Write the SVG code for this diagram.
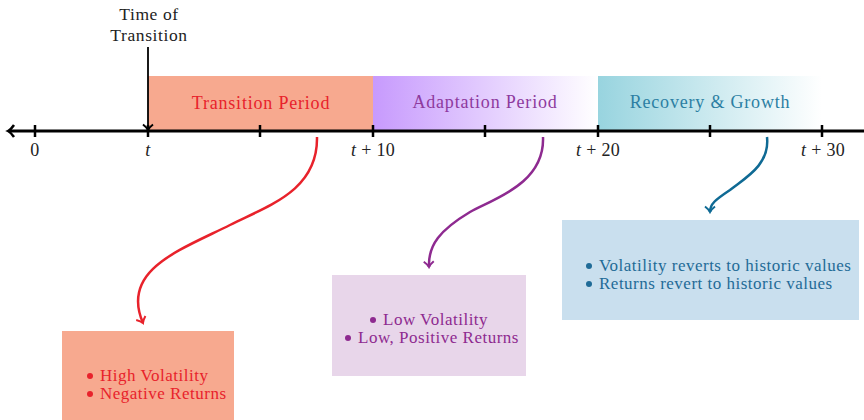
<svg xmlns="http://www.w3.org/2000/svg" width="864" height="420" viewBox="0 0 864 420">
<style>
text{font-family:"Liberation Serif","Times New Roman",serif;}
.lab{font-size:17.5px;fill:#222;text-anchor:middle;letter-spacing:0.6px}
.ax{font-size:18px;fill:#222;text-anchor:middle;letter-spacing:0.3px}
.it{font-style:italic}
.band{font-size:18px;text-anchor:middle;letter-spacing:0.8px}
.box{font-size:17px;letter-spacing:0.5px}
.tick{stroke:#000;stroke-width:2.5}
</style>
<defs>
<linearGradient id="gPurple" x1="0" y1="0" x2="1" y2="0">
<stop offset="0" stop-color="#C79AFD"/><stop offset="1" stop-color="#FFFFFF"/>
</linearGradient>
<linearGradient id="gTeal" x1="0" y1="0" x2="1" y2="0">
<stop offset="0" stop-color="#98D4DF"/><stop offset="1" stop-color="#FFFFFF"/>
</linearGradient>
<marker id="aBlack" viewBox="-7 -7 9 14" markerWidth="9" markerHeight="14" refX="0" refY="0" orient="auto" markerUnits="userSpaceOnUse">
<path d="M-5.5,-5 C-3,-1.8 -0.8,-0.4 0,0 C-0.8,0.4 -3,1.8 -5.5,5" fill="none" stroke="#000" stroke-width="2"/>
</marker>
<marker id="aRed" viewBox="-7 -7 9 14" markerWidth="9" markerHeight="14" refX="0" refY="0" orient="auto" markerUnits="userSpaceOnUse">
<path d="M-5.5,-5 C-3,-1.8 -0.8,-0.4 0,0 C-0.8,0.4 -3,1.8 -5.5,5" fill="none" stroke="#E8222B" stroke-width="2"/>
</marker>
<marker id="aPurple" viewBox="-7 -7 9 14" markerWidth="9" markerHeight="14" refX="0" refY="0" orient="auto" markerUnits="userSpaceOnUse">
<path d="M-5.5,-5 C-3,-1.8 -0.8,-0.4 0,0 C-0.8,0.4 -3,1.8 -5.5,5" fill="none" stroke="#8E2A90" stroke-width="2"/>
</marker>
<marker id="aBlue" viewBox="-7 -7 9 14" markerWidth="9" markerHeight="14" refX="0" refY="0" orient="auto" markerUnits="userSpaceOnUse">
<path d="M-5.5,-5 C-3,-1.8 -0.8,-0.4 0,0 C-0.8,0.4 -3,1.8 -5.5,5" fill="none" stroke="#0F6A94" stroke-width="2"/>
</marker>
</defs>

<g id="band-transition">
<rect x="148" y="76" width="225" height="55" fill="#F7A98F"/>
<text class="band" x="261" y="109" fill="#E8222B">Transition Period</text>
</g>
<g id="band-adaptation">
<rect x="373" y="76" width="225" height="55" fill="url(#gPurple)"/>
<text class="band" x="485" y="108" fill="#8E3A9E">Adaptation Period</text>
</g>
<g id="band-recovery">
<rect x="598" y="76" width="224" height="55" fill="url(#gTeal)"/>
<text class="band" x="710" y="108" fill="#2C7FA3">Recovery &amp; Growth</text>
</g>

<g id="timeline">
<line x1="9" y1="131" x2="864" y2="131" stroke="#000" stroke-width="3"/>
<path d="M14,125 C12,128 10,130 8,131 C10,132 12,134 14,137" fill="none" stroke="#000" stroke-width="2.5"/>
<line class="tick" x1="35" y1="125" x2="35" y2="137"/>
<line class="tick" x1="148" y1="125" x2="148" y2="137"/>
<line class="tick" x1="260" y1="125" x2="260" y2="137"/>
<line class="tick" x1="373" y1="125" x2="373" y2="137"/>
<line class="tick" x1="485" y1="125" x2="485" y2="137"/>
<line class="tick" x1="598" y1="125" x2="598" y2="137"/>
<line class="tick" x1="710" y1="125" x2="710" y2="137"/>
<line class="tick" x1="822" y1="125" x2="822" y2="137"/>
<text class="ax" x="35" y="156">0</text>
<text class="ax it" x="148" y="156">t</text>
<text class="ax" x="373" y="156"><tspan font-style="italic">t</tspan> + 10</text>
<text class="ax" x="598" y="156"><tspan font-style="italic">t</tspan> + 20</text>
<text class="ax" x="823" y="156"><tspan font-style="italic">t</tspan> + 30</text>
</g>

<g id="time-of-transition">
<text class="lab" x="149" y="20">Time of</text>
<text class="lab" x="149" y="41">Transition</text>
</g>

<g id="box-red">
<rect x="62" y="331" width="172" height="89" fill="#F7A98F"/>
<circle cx="90" cy="376" r="3" fill="#E8222B"/>
<text class="box" x="100" y="381" fill="#E8222B">High Volatility</text>
<circle cx="90" cy="394" r="3" fill="#E8222B"/>
<text class="box" x="100" y="399" fill="#E8222B">Negative Returns</text>
</g>

<g id="box-purple">
<rect x="332" y="275" width="194" height="101" fill="#E8D6EA"/>
<circle cx="373" cy="320" r="3" fill="#8E2A90"/>
<text class="box" x="383" y="325" fill="#8E2A90">Low Volatility</text>
<circle cx="348" cy="338" r="3" fill="#8E2A90"/>
<text class="box" x="358" y="343" fill="#8E2A90">Low, Positive Returns</text>
</g>

<g id="box-blue">
<rect x="562" y="220" width="297" height="100" fill="#C9DFEE"/>
<circle cx="589" cy="266" r="3" fill="#1F6B97"/>
<text class="box" x="599" y="271" fill="#1F6B97">Volatility reverts to historic values</text>
<circle cx="589" cy="284" r="3" fill="#1F6B97"/>
<text class="box" x="599" y="289" fill="#1F6B97">Returns revert to historic values</text>
</g>

<g id="connectors" fill="none" stroke-width="2.5">
<path d="M148,47 L148,130" stroke="#000" stroke-width="1.8" marker-end="url(#aBlack)"/>
<path d="M317,137 C318,190 270,205 230,225 C180,250 120,270 143,323" stroke="#E8222B" marker-end="url(#aRed)"/>
<path d="M543,137 C545,185 490,200 470,212 C440,230 428,245 429,267" stroke="#8E2A90" marker-end="url(#aPurple)"/>
<path d="M767,137 C770,165 745,178 730,190 C715,200 710,204 710,212" stroke="#0F6A94" marker-end="url(#aBlue)"/>
</g>
</svg>
